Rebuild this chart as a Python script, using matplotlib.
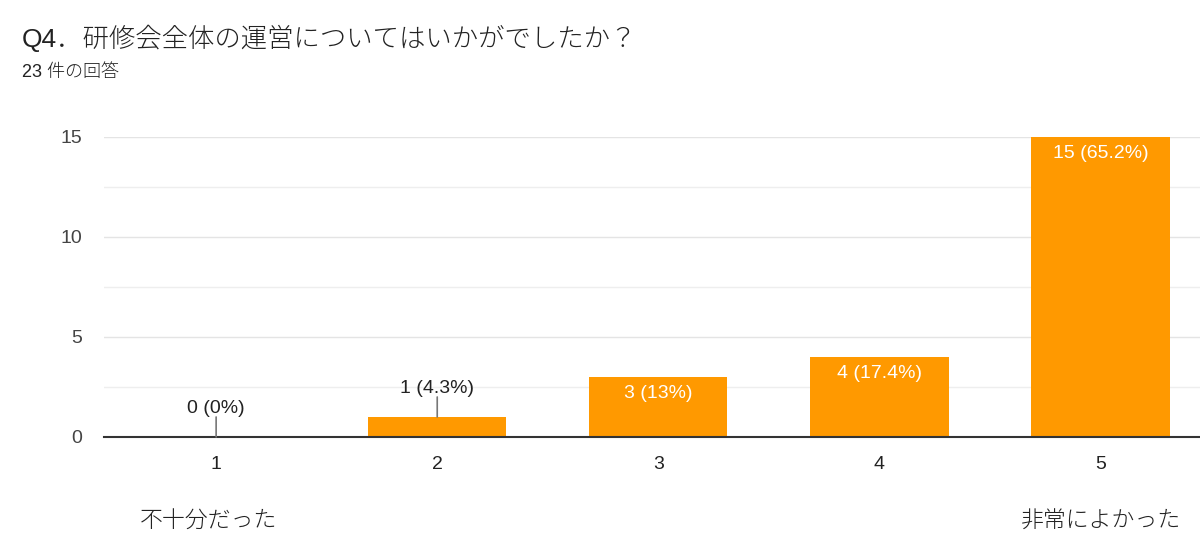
import matplotlib.pyplot as plt
from matplotlib.ticker import MultipleLocator

plt.rcParams['font.family'] = ['Liberation Sans', 'Noto Sans CJK JP']

ratings = [1, 2, 3, 4, 5]
counts = [0, 1, 3, 4, 15]
labels = ["0 (0%)", "1 (4.3%)", "3 (13%)", "4 (17.4%)", "15 (65.2%)"]
title = "Q4．研修会全体の運営についてはいかがでしたか？"
subtitle = "23 件の回答"
low_label = "不十分だった"
high_label = "非常によかった"

orange = "#ff9900"
text_col = "#222222"

fig = plt.figure(figsize=(12, 5.44), dpi=100)
ax = fig.add_axes([0.0867, 0.1967, 0.9133, 0.5515])

ax.bar(ratings, counts, width=0.625, color=orange, zorder=3)
ax.set_xlim(0.493, 5.45)
ax.set_ylim(0, 15)

ax.yaxis.set_major_locator(MultipleLocator(5))
ax.yaxis.set_minor_locator(MultipleLocator(2.5))
ax.grid(axis="y", which="major", color="#e4e4e4", linewidth=1, zorder=0)
ax.grid(axis="y", which="minor", color="#eeeeee", linewidth=1, zorder=0)
ax.set_xticks(ratings)
ax.tick_params(axis="both", which="both", length=0, labelsize=14, colors=text_col)
ax.tick_params(axis="x", pad=14)
ax.tick_params(axis="y", pad=16)
for lab in ax.get_yticklabels():
    lab.set_color("#444444")

for s in ["top", "right", "left"]:
    ax.spines[s].set_visible(False)
ax.spines["bottom"].set_color("#333333")
ax.spines["bottom"].set_linewidth(1.5)
ax.spines["bottom"].set_zorder(4)

for x, c, lab in zip(ratings, counts, labels):
    if c <= 1:
        ax.annotate("", xy=(x, c), xytext=(x, c + 1.0),
                    arrowprops=dict(arrowstyle="-", color="#777777", lw=1.2,
                                    shrinkA=0, shrinkB=0), zorder=5)
        ax.text(x, c + 1.0, lab, ha="center", va="bottom", fontsize=14,
                color=text_col, zorder=5)
    else:
        ax.text(x, c - 0.4, lab, ha="center", va="top", fontsize=14,
                color="white", zorder=5)

fig.text(22 / 1200, 1 - 38 / 544, title, fontsize=19, color=text_col,
         ha="left", va="center", fontweight="light")
fig.text(22 / 1200, 1 - 72 / 544, subtitle, fontsize=13, color=text_col,
         ha="left", va="center", fontweight="light")

ax.text(0.965, -0.28, low_label, transform=ax.get_xaxis_transform(),
        ha="center", va="center", fontsize=16.5, color=text_col,
        fontweight="light")
ax.text(5.0, -0.28, high_label, transform=ax.get_xaxis_transform(),
        ha="center", va="center", fontsize=16.5, color=text_col,
        fontweight="light")

fig.savefig("out.png", dpi=100, facecolor="white")
